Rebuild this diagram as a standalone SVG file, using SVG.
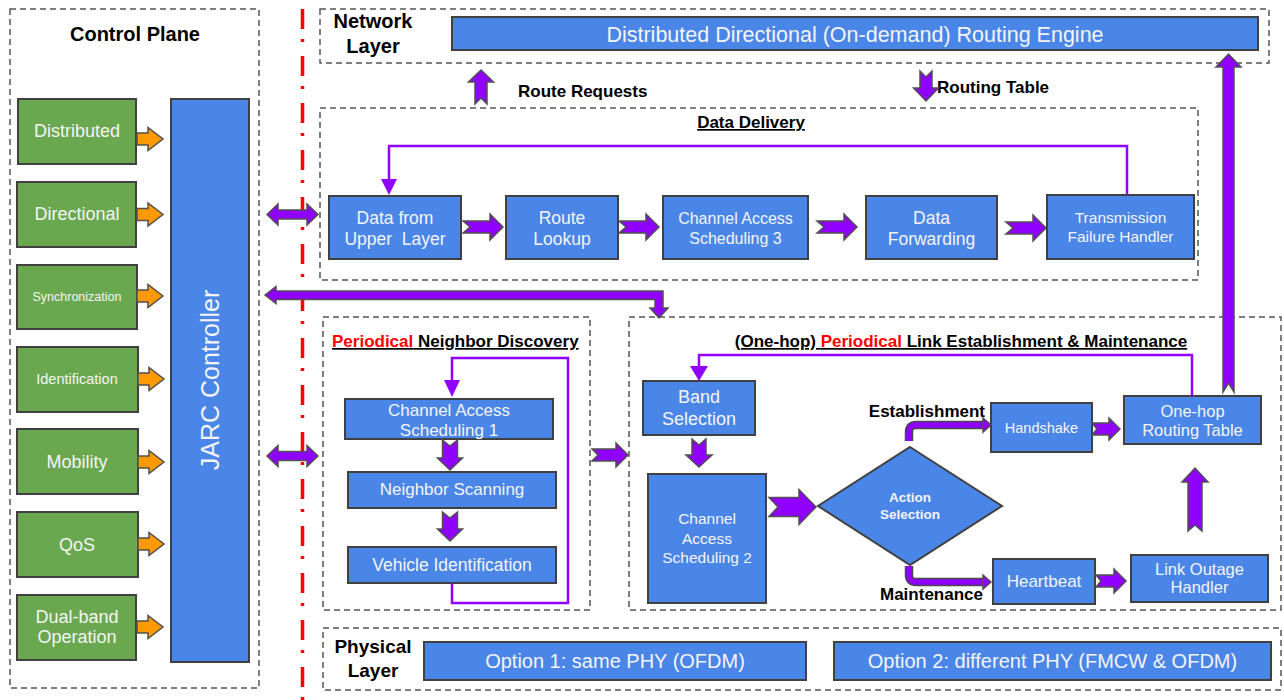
<svg xmlns="http://www.w3.org/2000/svg" width="1284" height="700" viewBox="0 0 1284 700">
<style>
text{font-family:"Liberation Sans",Arial,sans-serif}
.dash{fill:none;stroke:#555;stroke-width:1.5;stroke-dasharray:6 4}
.blue{fill:#4a86e8;stroke:#404040;stroke-width:2}
.green{fill:#6aa84f;stroke:#404040;stroke-width:2}
.wt{fill:#f4f4f4;text-anchor:middle}
.bt{fill:#000;font-weight:bold}
.pa{fill:#9000ff;stroke:#505050;stroke-width:1.5;stroke-linejoin:miter}
.oa{fill:#ff9900;stroke:#505050;stroke-width:1.5}
.fb{fill:none;stroke:#9000ff;stroke-width:2.5}
.fh{fill:#9000ff}
.cv1{fill:none;stroke:#484848;stroke-width:8.5}
.cv2{fill:none;stroke:#9000ff;stroke-width:5.5}
</style>

<!-- Region frames -->
<g id="frames">
<rect class="dash" x="10" y="9" width="249" height="679"/>
<rect class="dash" x="320" y="9" width="949" height="54"/>
<rect class="dash" x="320" y="108" width="878" height="172"/>
<rect class="dash" x="323" y="317" width="267" height="293"/>
<rect class="dash" x="629" y="317" width="652" height="293"/>
<rect class="dash" x="323" y="628" width="958" height="62"/>
<line x1="302.5" y1="9" x2="302.5" y2="700" stroke="#ff0000" stroke-width="3.5" stroke-dasharray="20 10 3 14"/>
</g>

<!-- Titles -->
<g id="titles">
<text class="bt" x="135" y="41" font-size="20" text-anchor="middle">Control Plane</text>
<text class="bt" x="373" y="28" font-size="20" text-anchor="middle">Network</text>
<text class="bt" x="373" y="53" font-size="20" text-anchor="middle">Layer</text>
<text class="bt" x="751" y="128" font-size="17" text-anchor="middle" text-decoration="underline">Data Delivery</text>
<text x="332" y="347" font-size="17" font-weight="bold" text-decoration="underline"><tspan fill="#ff0000">Periodical</tspan><tspan fill="#000"> Neighbor Discovery</tspan></text>
<text x="961" y="347" font-size="17" font-weight="bold" text-anchor="middle" text-decoration="underline"><tspan fill="#000">(One-hop) </tspan><tspan fill="#ff0000">Periodical</tspan><tspan fill="#000"> Link Establishment &amp; Maintenance</tspan></text>
<text class="bt" x="373" y="653" font-size="19" text-anchor="middle">Physical</text>
<text class="bt" x="373" y="677" font-size="19" text-anchor="middle">Layer</text>
<text class="bt" x="518" y="97" font-size="17">Route Requests</text>
<text class="bt" x="937" y="93" font-size="17">Routing Table</text>
<text class="bt" x="985" y="417" font-size="17" text-anchor="end">Establishment</text>
<text class="bt" x="880" y="600" font-size="17">Maintenance</text>
</g>

<!-- Control plane nodes -->
<g id="n-distributed"><rect class="green" x="18" y="99" width="118" height="65"/><text class="wt" x="77" y="137" font-size="18">Distributed</text></g>
<g id="n-directional"><rect class="green" x="17" y="182" width="119" height="65"/><text class="wt" x="77" y="220" font-size="18">Directional</text></g>
<g id="n-synchronization"><rect class="green" x="17" y="265" width="120" height="64"/><text class="wt" x="77" y="301" font-size="12.5">Synchronization</text></g>
<g id="n-identification"><rect class="green" x="17" y="347" width="121" height="65"/><text class="wt" x="77" y="384" font-size="14.5">Identification</text></g>
<g id="n-mobility"><rect class="green" x="17" y="429" width="121" height="65"/><text class="wt" x="77" y="468" font-size="18">Mobility</text></g>
<g id="n-qos"><rect class="green" x="17" y="512" width="121" height="65"/><text class="wt" x="77" y="551" font-size="18">QoS</text></g>
<g id="n-dualband"><rect class="green" x="17" y="595" width="119" height="65"/><text class="wt" x="77" y="623" font-size="18">Dual-band</text><text class="wt" x="77" y="643" font-size="18">Operation</text></g>
<g id="n-jarc"><rect class="blue" x="171" y="99" width="78" height="563"/><text class="wt" transform="translate(219,380) rotate(-90)" font-size="25">JARC Controller</text></g>

<!-- Network layer -->
<g id="n-engine"><rect class="blue" x="452" y="17" width="806" height="33"/><text class="wt" x="855" y="42" font-size="21.5">Distributed Directional (On-demand) Routing Engine</text></g>

<!-- Data delivery -->
<g id="n-upper"><rect class="blue" x="329" y="196" width="132" height="63"/><text class="wt" x="395" y="224" font-size="17.5">Data from</text><text class="wt" x="395" y="245" font-size="17.5" xml:space="preserve">Upper  Layer</text></g>
<g id="n-lookup"><rect class="blue" x="506" y="196" width="112" height="63"/><text class="wt" x="562" y="224" font-size="17.5">Route</text><text class="wt" x="562" y="245" font-size="17.5">Lookup</text></g>
<g id="n-cas3"><rect class="blue" x="663" y="196" width="145" height="63"/><text class="wt" x="735.5" y="224" font-size="16">Channel Access</text><text class="wt" x="735.5" y="244" font-size="16">Scheduling 3</text></g>
<g id="n-forward"><rect class="blue" x="866" y="196" width="131" height="63"/><text class="wt" x="931.5" y="224" font-size="17.5">Data</text><text class="wt" x="931.5" y="245" font-size="17.5">Forwarding</text></g>
<g id="n-tfh"><rect class="blue" x="1047" y="195" width="147" height="64"/><text class="wt" x="1120.5" y="223" font-size="15.5">Transmission</text><text class="wt" x="1120.5" y="242" font-size="15.5">Failure Handler</text></g>

<!-- Neighbor discovery -->
<g id="n-cas1"><rect class="blue" x="345" y="399" width="208" height="40"/><text class="wt" x="449" y="416" font-size="17">Channel Access</text><text class="wt" x="449" y="436" font-size="17">Scheduling 1</text></g>
<g id="n-scan"><rect class="blue" x="348" y="472" width="208" height="36"/><text class="wt" x="452" y="495" font-size="17">Neighbor Scanning</text></g>
<g id="n-vid"><rect class="blue" x="348" y="547" width="208" height="36"/><text class="wt" x="452" y="571" font-size="17.5">Vehicle Identification</text></g>

<!-- Link establishment -->
<g id="n-band"><rect class="blue" x="643" y="381" width="112" height="54"/><text class="wt" x="699" y="403" font-size="18">Band</text><text class="wt" x="699" y="425" font-size="18">Selection</text></g>
<g id="n-cas2"><rect class="blue" x="648" y="474" width="118" height="129"/><text class="wt" x="707" y="524" font-size="15.5">Channel</text><text class="wt" x="707" y="544" font-size="15.5">Access</text><text class="wt" x="707" y="563" font-size="15.5">Scheduling 2</text></g>
<g id="n-action"><polygon class="blue" points="910,447 1002,506 910,565 818,506"/><text class="wt" x="910" y="502" font-size="13.5" font-weight="bold">Action</text><text class="wt" x="910" y="519" font-size="13.5" font-weight="bold">Selection</text></g>
<g id="n-handshake"><rect class="blue" x="991" y="403" width="101" height="49"/><text class="wt" x="1041.5" y="433" font-size="14.5">Handshake</text></g>
<g id="n-onehop"><rect class="blue" x="1124" y="396" width="137" height="48"/><text class="wt" x="1192.5" y="417" font-size="16.5">One-hop</text><text class="wt" x="1192.5" y="436" font-size="16.5">Routing Table</text></g>
<g id="n-heartbeat"><rect class="blue" x="993" y="559" width="102" height="45"/><text class="wt" x="1044" y="587" font-size="17">Heartbeat</text></g>
<g id="n-outage"><rect class="blue" x="1131" y="555" width="137" height="47"/><text class="wt" x="1199.5" y="575" font-size="16.5">Link Outage</text><text class="wt" x="1199.5" y="593" font-size="16.5">Handler</text></g>

<!-- Physical layer -->
<g id="n-opt1"><rect class="blue" x="424" y="642" width="382" height="38"/><text class="wt" x="615" y="668" font-size="20">Option 1: same PHY (OFDM)</text></g>
<g id="n-opt2"><rect class="blue" x="834" y="642" width="437" height="38"/><text class="wt" x="1052.5" y="668" font-size="20">Option 2: different PHY (FMCW &amp; OFDM)</text></g>

<!-- Connectors -->
<g id="connectors">
<!-- orange -->
<path class="oa" d="M137,133 L148,133 L148,127.5 L163,139 L148,150.5 L148,145 L137,145 Z"/>
<path class="oa" d="M137,208.5 L148,208.5 L148,203 L163,214.5 L148,226 L148,220.5 L137,220.5 Z"/>
<path class="oa" d="M137,290 L148,290 L148,284.5 L163,296 L148,307.5 L148,302 L137,302 Z"/>
<path class="oa" d="M138,373 L149,373 L149,367.5 L164,379 L149,390.5 L149,385 L138,385 Z"/>
<path class="oa" d="M138,456 L149,456 L149,450.5 L164,462 L149,473.5 L149,468 L138,468 Z"/>
<path class="oa" d="M138,538 L149,538 L149,532.5 L164,544 L149,555.5 L149,550 L138,550 Z"/>
<path class="oa" d="M137,621 L148,621 L148,615.5 L163,627 L148,638.5 L148,633 L137,633 Z"/>
<!-- double arrows -->
<path class="pa" d="M267,214.5 L278,204 L278,210 L307,210 L307,204 L318,214.5 L307,225 L307,219 L278,219 L278,225 Z"/>
<path class="pa" d="M267,456 L278,445.5 L278,451.5 L307,451.5 L307,445.5 L318,456 L307,466.5 L307,460.5 L278,460.5 L278,466.5 Z"/>
<!-- long L arrow -->
<path class="pa" d="M265,295 L276,286.5 L276,291 L663,291 L663,308 L668,308 L659,318 L650,308 L655,308 L655,299.5 L276,299.5 L276,303.5 Z"/>
<!-- route requests / routing table -->
<path class="pa" d="M475,104 L481,98 L487,104 L487,82 L493.5,82 L481,70 L468.5,82 L475,82 Z"/>
<path class="pa" d="M920,71 L926,77 L932,71 L932,88 L938.5,88 L926,101 L913.5,88 L920,88 Z"/>
<!-- data delivery chain -->
<path class="pa" d="M463,221 L490,221 L490,214 L503,227 L490,240 L490,233 L463,233 L470,227 Z"/>
<path class="pa" d="M619,221 L646,221 L646,214 L659,227 L646,240 L646,233 L619,233 L626,227 Z"/>
<path class="pa" d="M817,221 L844,221 L844,214 L857,227 L844,240 L844,233 L817,233 L824,227 Z"/>
<path class="pa" d="M1006,222 L1033,222 L1033,215 L1046,228 L1033,241 L1033,234 L1006,234 L1013,228 Z"/>
<path class="fb" d="M1127,195 V146 H389 V180"/>
<polygon class="fh" points="381,179 397,179 389,195"/>
<!-- neighbor discovery -->
<path class="pa" d="M442.5,440 L450,446 L457.5,440 L457.5,458 L462.5,458 L450,470 L437.5,458 L442.5,458 Z"/>
<path class="pa" d="M442.5,512 L450,518 L457.5,512 L457.5,529 L462.5,529 L450,541 L437.5,529 L442.5,529 Z"/>
<path class="fb" d="M452,583 V603 H568 V358 H452 V382"/>
<polygon class="fh" points="444,380 460,380 452,397"/>
<path class="pa" d="M592,449 L616,449 L616,443 L628,455 L616,467 L616,461 L592,461 L598,455 Z"/>
<!-- link establishment -->
<path class="fb" d="M1192,396 V355 H699 V368"/>
<polygon class="fh" points="690,366 708,366 699,381"/>
<path class="pa" d="M692,439 L699,445 L706,439 L706,455 L712,455 L699,467 L686,455 L692,455 Z"/>
<path class="pa" d="M769,497.5 L799,497.5 L799,489.5 L816,507 L799,524.5 L799,516.5 L769,516.5 L778,507 Z"/>
<path class="cv1" d="M909,441 V432 Q909,425 916,425 H984"/>
<path class="cv2" d="M909,441 V432 Q909,425 916,425 H985"/>
<polygon class="pa" points="983,418 991,425 983,432"/>
<path class="cv1" d="M909,566 V575 Q909,582 916,582 H984"/>
<path class="cv2" d="M909,566 V575 Q909,582 916,582 H985"/>
<polygon class="pa" points="983,575 991,582 983,589"/>
<path class="pa" d="M1092,423 L1109,423 L1109,418 L1120,429 L1109,440 L1109,435 L1092,435 L1097,429 Z"/>
<path class="pa" d="M1096,575 L1114,575 L1114,569 L1126,581 L1114,593 L1114,587 L1096,587 L1101,581 Z"/>
<path class="pa" d="M1188,531 L1195,525 L1202,531 L1202,482 L1208,482 L1195,468 L1182,482 L1188,482 Z"/>
<path class="pa" d="M1223,392 L1228.5,383 L1234,392 L1234,67 L1241,67 L1228.5,54 L1216,67 L1223,67 Z"/>
</g>
</svg>
